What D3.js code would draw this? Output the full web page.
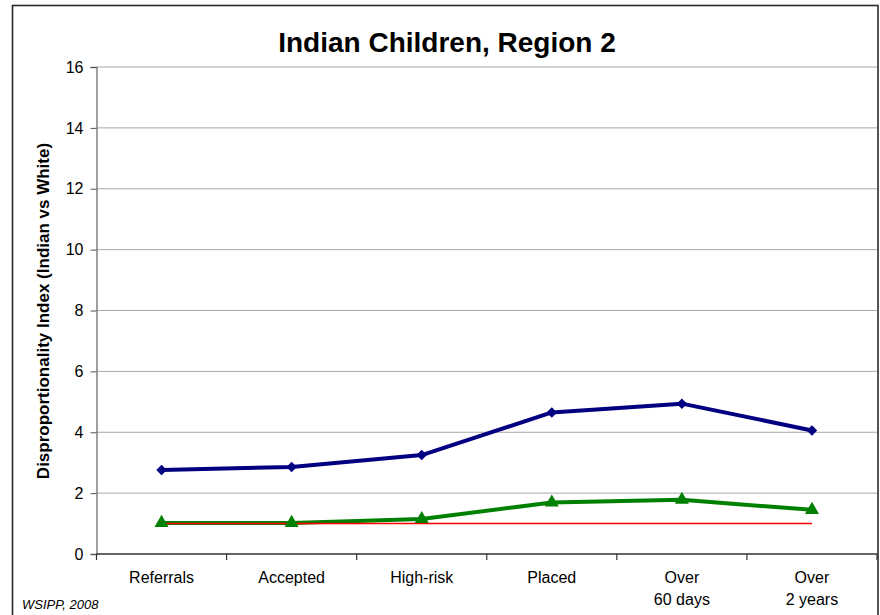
<!DOCTYPE html>
<html>
<head>
<meta charset="utf-8">
<script src="https://cdn.jsdelivr.net/npm/d3@7/dist/d3.min.js"></script>
<style>
  html, body { margin: 0; padding: 0; background: #fff; }
  svg { display: block; font-family: "Liberation Sans", Arial, sans-serif; }
</style>
</head>
<body>
<svg id="chart" width="880" height="615"></svg>
<script>
// Stages of the child welfare process (each label may span two lines)
const categories = [["Referrals"], ["Accepted"], ["High-risk"], ["Placed"], ["Over", "60 days"], ["Over", "2 years"]];
// Disproportionality index, Indian vs White children
const indexHigh = [2.76, 2.86, 3.25, 4.65, 4.94, 4.06];
const indexLow  = [1.02, 1.02, 1.15, 1.69, 1.78, 1.45];
// Parity reference (index = 1)
const parity    = [1, 1, 1, 1, 1, 1];
const yTicks    = [0, 2, 4, 6, 8, 10, 12, 14, 16];

const svg = d3.select("#chart");
const plot = { left: 96.5, right: 877, top: 67, bottom: 554 };

// Outer frame
svg.append("rect")
  .attr("x", 12.5).attr("y", 5.5)
  .attr("width", 865.5).attr("height", 620)
  .attr("fill", "none").attr("stroke", "#2a2a2a").attr("stroke-width", 1.6);

const x = d3.scaleBand()
  .domain(categories.map((d, i) => i))
  .range([plot.left, plot.right])
  .paddingInner(0).paddingOuter(0);
const cx = i => x(i) + x.bandwidth() / 2;

const y = d3.scaleLinear().domain([0, 16]).range([plot.bottom, plot.top]);

// Horizontal gridlines
svg.append("g")
  .selectAll("line")
  .data(yTicks.filter(t => t > 0))
  .join("line")
  .attr("x1", plot.left).attr("x2", plot.right)
  .attr("y1", d => y(d)).attr("y2", d => y(d))
  .attr("stroke", "#a8a8a8").attr("stroke-width", 1);

// Y axis
const yAxis = svg.append("g")
  .attr("transform", `translate(${plot.left},0)`)
  .call(d3.axisLeft(y).tickValues(yTicks).tickSize(6).tickPadding(7).tickFormat(d3.format("d")));
yAxis.select(".domain").attr("stroke", "#808080").attr("stroke-width", 1.5);
yAxis.selectAll(".tick line").attr("stroke", "#555");
yAxis.selectAll(".tick text")
  .attr("font-family", "Liberation Sans, Arial, sans-serif")
  .attr("font-size", 16).attr("fill", "#000");

// X axis with ticks on category boundaries
const xAxisG = svg.append("g");
xAxisG.append("line")
  .attr("x1", plot.left).attr("x2", plot.right)
  .attr("y1", plot.bottom).attr("y2", plot.bottom)
  .attr("stroke", "#333").attr("stroke-width", 1.5);
const boundaries = categories.map((d, i) => x(i)).concat([x(categories.length - 1) + x.bandwidth()]);
xAxisG.selectAll("line.tick")
  .data(boundaries)
  .join("line")
  .attr("class", "tick")
  .attr("x1", d => d).attr("x2", d => d)
  .attr("y1", plot.bottom).attr("y2", plot.bottom + 6)
  .attr("stroke", "#333").attr("stroke-width", 1.2);

const labels = xAxisG.selectAll("text.cat")
  .data(categories)
  .join("text")
  .attr("class", "cat")
  .attr("x", (d, i) => cx(i))
  .attr("y", 583)
  .attr("text-anchor", "middle")
  .attr("font-size", 16).attr("fill", "#000");
labels.selectAll("tspan")
  .data(d => d)
  .join("tspan")
  .attr("x", function () { return d3.select(this.parentNode).attr("x"); })
  .attr("dy", (d, i) => i === 0 ? 0 : 22)
  .text(d => d);

// Series lines
const line = d3.line().x((d, i) => cx(i)).y(d => y(d));

svg.append("path").datum(indexHigh)
  .attr("d", line).attr("fill", "none")
  .attr("stroke", "#000080").attr("stroke-width", 4).attr("stroke-linejoin", "round");

svg.append("path").datum(indexLow)
  .attr("d", line).attr("fill", "none")
  .attr("stroke", "#008000").attr("stroke-width", 4).attr("stroke-linejoin", "round");

svg.append("path").datum(parity)
  .attr("d", line).attr("fill", "none")
  .attr("stroke", "#ff0000").attr("stroke-width", 1.4);

// Markers
const diamond = d3.symbol().type(d3.symbolDiamond2).size(70);
svg.append("g").selectAll("path")
  .data(indexHigh)
  .join("path")
  .attr("d", diamond)
  .attr("transform", (d, i) => `translate(${cx(i)},${y(d)})`)
  .attr("fill", "#000080");

const triangle = d3.symbol().type(d3.symbolTriangle).size(85);
svg.append("g").selectAll("path")
  .data(indexLow)
  .join("path")
  .attr("d", triangle)
  .attr("transform", (d, i) => `translate(${cx(i)},${y(d)})`)
  .attr("fill", "#008000");

// Title
svg.append("text")
  .attr("x", 447).attr("y", 52)
  .attr("text-anchor", "middle")
  .attr("font-size", 28).attr("font-weight", "bold")
  .text("Indian Children, Region 2");

// Y axis title
svg.append("text")
  .attr("transform", "translate(49,311) rotate(-90)")
  .attr("text-anchor", "middle")
  .attr("font-size", 17).attr("font-weight", "bold")
  .text("Disproportionality Index (Indian vs White)");

// Source note
svg.append("text")
  .attr("x", 22).attr("y", 609)
  .attr("font-size", 13).attr("font-style", "italic")
  .text("WSIPP, 2008");
</script>
</body>
</html>
